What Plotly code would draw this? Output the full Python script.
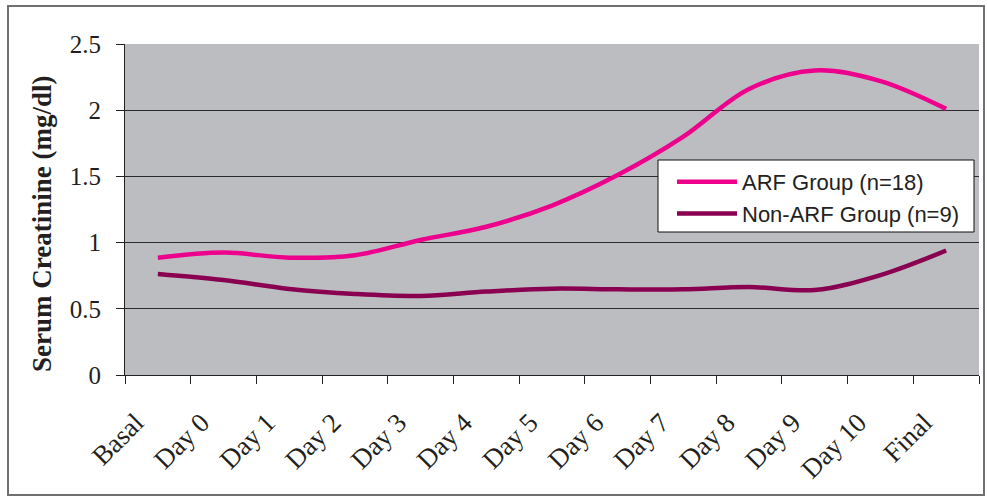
import plotly.graph_objects as go

categories = ["Basal", "Day 0", "Day 1", "Day 2", "Day 3", "Day 4", "Day 5",
              "Day 6", "Day 7", "Day 8", "Day 9", "Day 10", "Final"]
arf_values = [0.886, 0.925, 0.886, 0.905, 1.02, 1.12, 1.28, 1.51, 1.80, 2.16, 2.30, 2.22, 2.01]
non_arf_values = [0.763, 0.717, 0.65, 0.612, 0.597, 0.63, 0.652, 0.647, 0.647, 0.665, 0.642, 0.755, 0.94]
y_ticks = [0, 0.5, 1, 1.5, 2, 2.5]
y_ticktext = ["0", "0.5", "1", "1.5", "2", "2.5"]

W, H = 988, 497
L, R, T, B = 125, 9, 44, 122
pw, ph = W - L - R, H - T - B

def px(x):
    return (x - L) / pw

def py(y):
    return (H - B - y) / ph

serif = "Liberation Serif, Times New Roman, serif"
sans = "Liberation Sans, Arial, sans-serif"
txt = "#231F20"

fig = go.Figure()
fig.add_trace(go.Scatter(x=categories, y=arf_values, mode="lines",
                         name="ARF Group (n=18)",
                         line=dict(color="#EC008C", width=4.5, shape="spline", smoothing=1.0)))
fig.add_trace(go.Scatter(x=categories, y=non_arf_values, mode="lines",
                         name="Non-ARF Group (n=9)",
                         line=dict(color="#8A0050", width=4.5, shape="spline", smoothing=1.0)))

# outer frame
fig.add_shape(type="rect", xref="paper", yref="paper",
              x0=px(8), x1=px(984), y0=py(495), y1=py(6),
              line=dict(color="#707070", width=2), fillcolor="rgba(0,0,0,0)", layer="below")
# legend box
fig.add_shape(type="rect", xref="paper", yref="paper",
              x0=px(658), x1=px(974), y0=py(232), y1=py(160),
              line=dict(color="#111111", width=1), fillcolor="white", layer="above")

fig.add_annotation(text="<b>Serum Creatinine (mg/dl)</b>", xref="paper", yref="paper",
                   x=px(42), y=py(224), xanchor="center", yanchor="middle",
                   textangle=-90, showarrow=False,
                   font=dict(family=serif, size=27, color=txt))

fig.update_layout(
    width=W, height=H,
    margin=dict(l=L, r=R, t=T, b=B),
    paper_bgcolor="white",
    plot_bgcolor="#BCBDC1",
    showlegend=True,
    legend=dict(x=px(672), y=py(161), xanchor="left", yanchor="top",
                bgcolor="rgba(0,0,0,0)", borderwidth=0, itemwidth=60,
                font=dict(family=sans, size=22, color="#222222"),
                tracegroupgap=0),
    xaxis=dict(type="category", range=[-0.5, len(categories) - 0.5],
               showline=True, linecolor="#222222", linewidth=1,
               ticks="outside", ticklen=8, tickcolor="#222222", tickson="boundaries",
               tickangle=-45, showgrid=False, zeroline=False,
               ticklabelstandoff=20, ticklabelshift=-22,
               tickfont=dict(family=serif, size=27, color=txt)),
    yaxis=dict(range=[0, 2.5], tickvals=y_ticks, ticktext=y_ticktext,
               showline=True, linecolor="#222222", linewidth=1,
               ticks="outside", ticklen=8, tickcolor="#222222",
               showgrid=True, gridcolor="#2a2a2a", gridwidth=1, zeroline=False,
               ticklabelstandoff=10,
               tickfont=dict(family=serif, size=25, color=txt)),
)

fig.write_html("out.html")
